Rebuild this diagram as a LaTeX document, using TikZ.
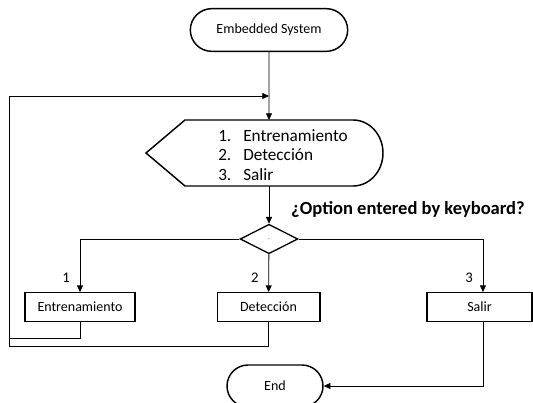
\documentclass[tikz,border=0pt]{standalone}
\usepackage{fontspec}
\setmainfont{Carlito}
\usetikzlibrary{shapes.misc,shapes.geometric,arrows.meta}

\begin{document}
\begin{tikzpicture}[x=0.75pt,y=-0.75pt,
                        term/.style={rounded rectangle,draw,line width=1.1pt,inner sep=0pt,minimum height=32pt,font=\fontsize{10.5}{12}\selectfont},
                        box/.style={rectangle,draw,line width=1pt,inner sep=0pt,minimum height=21.4pt,font=\fontsize{10.5}{12}\selectfont},
                        arr/.style={line width=0.6pt,-{Triangle[length=5pt,width=4.5pt]}},
                        num/.style={left,xshift=-4pt,font=\fontsize{11}{12}\selectfont}]
                        \path[use as bounding box,fill=white] (0,0) rectangle (533,403);

                        \node (a) at (269,30) [term,minimum width=118pt] {Embedded System};
                        \draw[line width=1.1pt] (146,153) -- (185,120) -- (353,120) arc[start angle=90,end angle=-90,x radius=22.5pt,y radius=24.75pt] -- (185,186) -- cycle;
                        \node (m) at (218,155) [anchor=west,align=left,inner sep=0pt,font=\fontsize{12.9}{14.6}\selectfont] {\makebox[18.75pt][l]{1.}Entrenamiento\\\makebox[18.75pt][l]{2.}Detección\\\makebox[18.75pt][l]{3.}Salir};
                        \node (b) at (269,239) [diamond,draw,line width=1pt,inner sep=0pt,minimum width=43.5pt,minimum height=22pt,font=\tiny] {.};
                        \node (q) at (408,210) [font=\fontsize{13.9}{15}\selectfont\bfseries] {¿Option entered by keyboard?};
                        \node (c) at (80,307) [box,minimum width=82.5pt] {Entrenamiento};
                        \node (d) at (268.5,307) [box,minimum width=77pt] {Detección};
                        \node (e) at (479.5,307) [box,minimum width=78.75pt] {Salir};
                        \node (f) at (275,386) [term,minimum width=72pt,minimum height=31.5pt] {End};

                        \coordinate (t) at (269,120);
                        \coordinate (u) at (269,186);
                        \coordinate (j) at (269,96);
                        \coordinate (k) at (9,338);
                        \coordinate (l) at (9,346);

                    \draw[arr] (a) -- (t);
                    \draw[arr] (u) -- (b);
                    \draw[arr] (b) -| node[num,pos=0.87] {1} (c);
                    \draw[arr] (b) -- node[num,pos=0.63] {2} (d);
                    \draw[arr] (b) -| node[num,pos=0.87] {3} ([xshift=2.6pt]e.north);
                    \draw[line width=0.6pt] (c) |- (k);
                    \draw[arr] (d) |- (l) |- (j);
                    \draw[arr] ([xshift=2.6pt]e.south) |- (f);
                \end{tikzpicture}
\end{document}
